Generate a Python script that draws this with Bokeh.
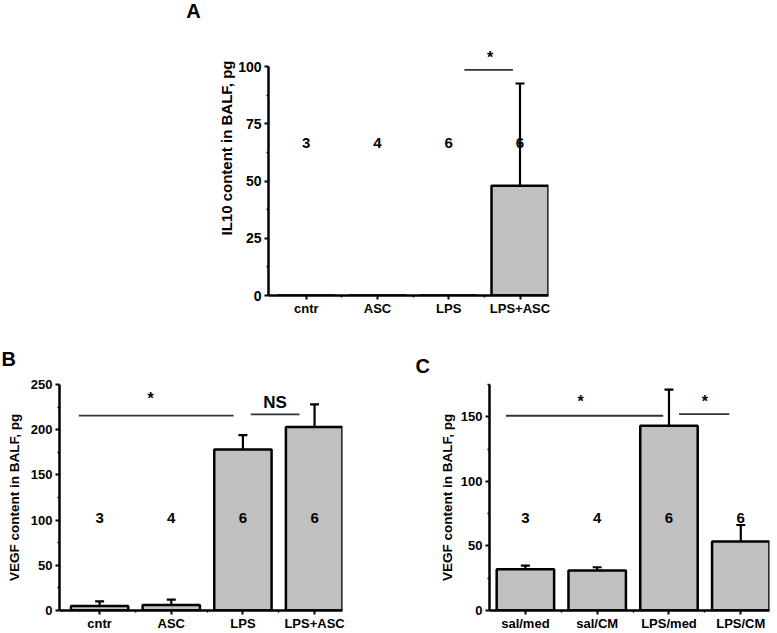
from bokeh.plotting import figure
from bokeh.layouts import column, row
from bokeh.models import FixedTicker, Whisker, TeeHead, ColumnDataSource, Range1d
from bokeh.core.properties import value
from bokeh.embed import file_html
from bokeh.resources import INLINE

# ---------------- data ----------------
A_cats = ["cntr", "ASC", "LPS", "LPS+ASC"]
A_means = [0, 0, 0, 48]
A_err = [0, 0, 0, 44.7]
A_n = ["3", "4", "6", "6"]

B_cats = ["cntr", "ASC", "LPS", "LPS+ASC"]
B_means = [5, 6, 178, 203]
B_err = [5, 6, 16, 25]
B_n = ["3", "4", "6", "6"]

C_cats = ["sal/med", "sal/CM", "LPS/med", "LPS/CM"]
C_means = [32, 31, 143, 53.5]
C_err = [2.7, 2.5, 28, 12.7]
C_n = ["3", "4", "6", "6"]

A_yticks = [0, 25, 50, 75, 100]
B_yticks = [0, 50, 100, 150, 200, 250]
C_yticks = [0, 50, 100, 150]

FONT = "Liberation Sans"
FILL = "#c0c0c0"


def make_panel(letter, letter_offset, letter_standoff,
               cats, means, errs, ns, yticks, yminor, yrange, ybounds, xrange,
               ylabel, width, height, borders, ytick_size, ylabel_size,
               ylabel_standoff, n_y, n_size):
    left, right, top, bottom = borders
    p = figure(width=width, height=height, output_backend="svg", toolbar_location=None,
               x_range=Range1d(*xrange), y_range=Range1d(*yrange),
               min_border_left=left, min_border_right=right,
               min_border_top=top, min_border_bottom=bottom, title=letter)
    if letter:
        p.title.text_font = FONT
        p.title.text_font_style = "bold"
        p.title.text_font_size = "20px"
        p.title.text_color = "black"
        p.title.align = "left"
        p.title.offset = letter_offset
        p.title.standoff = letter_standoff
    p.outline_line_color = None
    p.xgrid.visible = False
    p.ygrid.visible = False
    p.background_fill_color = "white"
    p.border_fill_color = "white"

    xs = list(range(len(cats)))
    src = ColumnDataSource(dict(x=xs, top=means))
    p.vbar(x="x", top="top", width=0.8, bottom=0, source=src,
           fill_color=FILL, line_color="black", line_width=2.5)

    ex = [x for x, e in zip(xs, errs) if e > 0]
    eu = [m + e for m, e in zip(means, errs) if e > 0]
    el = [m - e for m, e in zip(means, errs) if e > 0]
    esrc = ColumnDataSource(dict(x=ex, upper=eu, lower=el))
    w = Whisker(source=esrc, base="x", upper="upper", lower="lower",
                line_width=2.2, line_color="black",
                upper_head=TeeHead(size=9, line_width=2.2, line_color="black"),
                lower_head=TeeHead(size=9, line_width=2.2, line_color="black"))
    p.add_layout(w)

    p.text(x=xs, y=[n_y] * len(xs), text=ns, text_font=value(FONT),
           text_font_style="bold", text_font_size=n_size, text_align="center",
           text_baseline="middle", text_color="black")

    xa = p.xaxis[0]
    ya = p.yaxis[0]
    xa.ticker = FixedTicker(ticks=xs, minor_ticks=[x + 0.5 for x in xs[:-1]])
    xa.major_label_overrides = {i: c for i, c in enumerate(cats)}
    ya.ticker = FixedTicker(ticks=yticks, minor_ticks=yminor)
    if ybounds is not None:
        ya.bounds = ybounds
    for ax in (xa, ya):
        ax.axis_line_width = 2.5
        ax.axis_line_color = "black"
        ax.major_tick_line_width = 2
        ax.major_tick_line_color = "black"
        ax.minor_tick_line_width = 1.5
        ax.minor_tick_line_color = "black"
        ax.major_tick_in = 0
        ax.major_tick_out = 4
        ax.minor_tick_in = 0
        ax.minor_tick_out = 2
        ax.major_label_text_font = FONT
        ax.major_label_text_font_style = "bold"
        ax.major_label_text_color = "black"
    xa.major_label_text_font_size = "13px"
    xa.major_label_standoff = 1
    ya.major_label_text_font_size = ytick_size
    ya.major_label_standoff = 3
    ya.axis_label = ylabel
    ya.axis_label_text_font = FONT
    ya.axis_label_text_font_style = "bold"
    ya.axis_label_text_font_size = ylabel_size
    ya.axis_label_text_color = "black"
    ya.axis_label_standoff = ylabel_standoff
    return p


def add_sig(p, x0, x1, y, tx, ty, txt, size):
    p.segment(x0=[x0], y0=[y], x1=[x1], y1=[y], line_width=1.8, line_color="#333333")
    p.text(x=[tx], y=[ty], text=[txt], text_font=value(FONT), text_font_style="bold",
           text_font_size=size, text_align="center", text_baseline="middle",
           text_color="black")


A_YMAX = 129  # frame of panel A reaches the top of the page; the axis stops at 100

# ---------- panel letter "A" (its own small canvas left of panel A) ----------
pLetter = figure(width=215, height=318, output_backend="svg", toolbar_location=None,
                 x_range=Range1d(0, 215), y_range=Range1d(0, A_YMAX),
                 x_axis_location=None, y_axis_location=None,
                 min_border_left=0, min_border_right=0,
                 min_border_top=0, min_border_bottom=20)
pLetter.outline_line_color = None
pLetter.xgrid.visible = False
pLetter.ygrid.visible = False
pLetter.text(x=[193], y=[124.5], text=["A"], text_font=value(FONT),
             text_font_style="bold", text_font_size="20px", text_align="center",
             text_baseline="middle", text_color="black")

# ---------- Panel A ----------
pA = make_panel(None, 0, 0,
                A_cats, A_means, A_err, A_n, A_yticks, [12.5, 37.5, 62.5, 87.5],
                (0, A_YMAX), (0, 100), (-0.53, 3.4), "IL10 content in BALF, pg",
                343, 318, (50, 10, 0, 20), "14px", "15px", 0, 66.7, "15px")
add_sig(pA, 2.22, 2.90, 98.7, 2.58, 104, "*", "16px")

# ---------- Panel B ----------
pB = make_panel("B", -58, 29,
                B_cats, B_means, B_err, B_n, B_yticks, [25, 75, 125, 175, 225],
                (0, 250), None, (-0.56, 3.39), "VEGF content in BALF, pg",
                382, 315, (59, 40, 66, 20), "13px", "13.5px", 6, 102.7, "15px")
add_sig(pB, -0.29, 1.87, 215.5, 0.71, 235, "*", "16px")
add_sig(pB, 2.11, 2.79, 217, 2.45, 230, "NS", "17px")

# ---------- Panel C ----------
pC = make_panel("C", -74, 15,
                C_cats, C_means, C_err, C_n, C_yticks, [25, 75, 125, 175],
                (0, 175), None, (-0.5, 3.4), "VEGF content in BALF, pg",
                395, 315, (107, 8, 66, 20), "13px", "13.5px", 3, 72, "15px")
add_sig(pC, -0.27, 1.92, 150.8, 0.77, 162, "*", "16px")
add_sig(pC, 2.14, 2.84, 152, 2.5, 162, "*", "16px")

layout = column(row(pLetter, pA), row(pB, pC))
open("out.html", "w").write(file_html(layout, INLINE))
